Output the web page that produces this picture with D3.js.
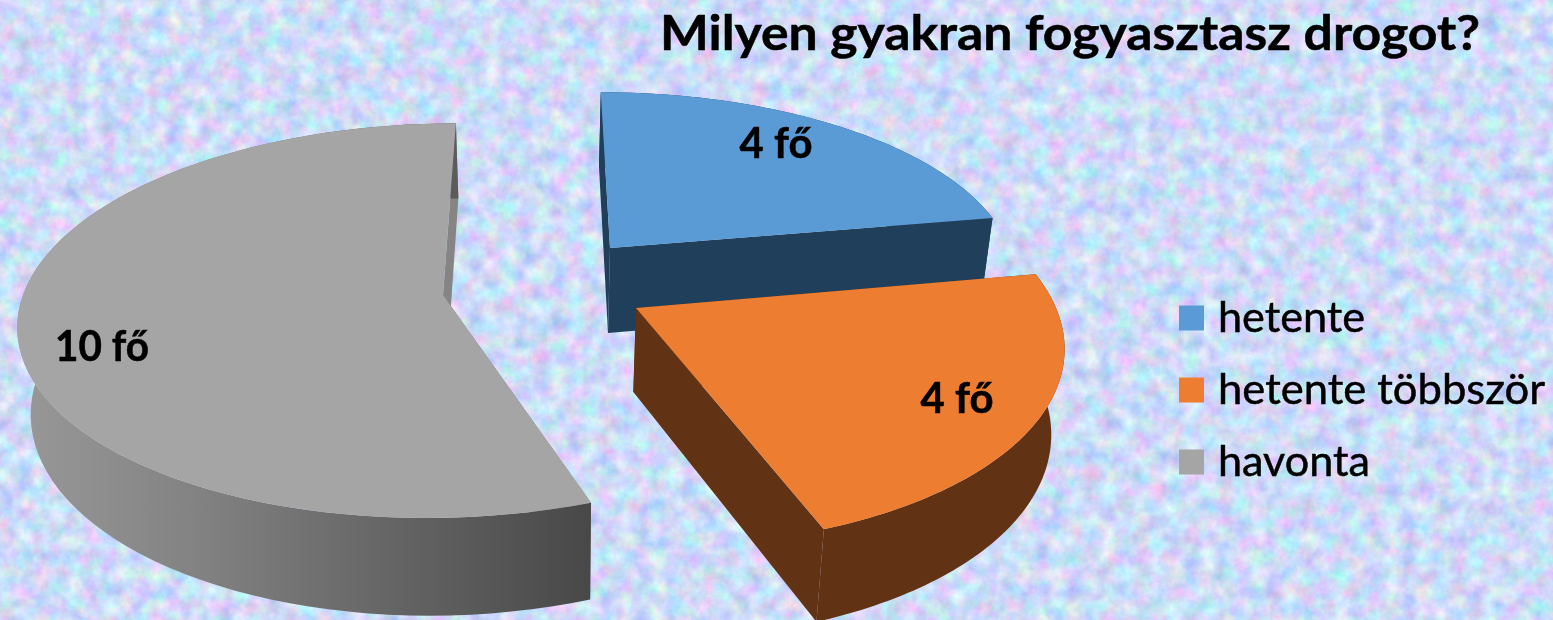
<!DOCTYPE html>
<html>
<head>
<meta charset="utf-8">
<script src="https://cdn.jsdelivr.net/npm/d3@7"></script>
<style>
  html, body { margin: 0; padding: 0; background: #cdd7fa; }
  svg { display: block; filter: blur(0.6px); }
  text { font-family: Lato, "Noto Sans", sans-serif; fill: #000; stroke: #000; stroke-width: 0.5px; }
</style>
</head>
<body>
<svg id="chart"></svg>
<script>
const title = 'Milyen gyakran fogyasztasz drogot?';
const categories = ['hetente', 'hetente többször', 'havonta'];
const values = [4, 4, 10];
const unit = 'fő';

const width = 1553;
const height = 620;

const topColor = d3.scaleOrdinal().domain(categories).range(['#5b9bd5', '#ed7d31', '#a5a5a5']);
const sideColor = d3.scaleOrdinal().domain(categories).range(['#1f3f5a', '#613214', 'url(#greySide)']);
const cutColor = d3.scaleOrdinal().domain(categories).range(['#1f3f5a', '#613214', '#858585']);

// exploded 3d pie: tip of each slice on screen, ellipse radii and how the perspective hits it
const layout = [
  { ax: 610, ay: 248, rx: 399, ry: 176, vx: 530, persp: 0.13, depth: 85, grow: 1, label: [776, 158], labelW: 73 },
  { ax: 636, ay: 308, rx: 420, ry: 200, vx: 530, persp: 0.16, depth: 84, grow: 0.6, label: [957, 413], labelW: 73 },
  { ax: 443, ay: 295, rx: 420, ry: 194, vx: 555, persp: 0.13, depth: 85, grow: 1, label: [102, 361], labelW: 94 }
];
const sink = 0.025;

const svg = d3.select('#chart').attr('width', width).attr('height', height);
const defs = svg.append('defs');

// paper texture
const paper = defs.append('filter').attr('id', 'paper')
  .attr('x', 0).attr('y', 0).attr('width', '100%').attr('height', '100%')
  .attr('color-interpolation-filters', 'sRGB');
paper.append('feTurbulence')
  .attr('type', 'fractalNoise').attr('baseFrequency', 0.06)
  .attr('numOctaves', 4).attr('seed', 7);
paper.append('feColorMatrix').attr('type', 'matrix')
  .attr('values', '0.45 0 0 0 0.58  0 0.36 0 0 0.68  0 0 0.2 0 0.87  0 0 0 0 1');

const grad = defs.append('linearGradient').attr('id', 'greySide')
  .attr('gradientUnits', 'userSpaceOnUse')
  .attr('x1', 20).attr('x2', 590).attr('y1', 0).attr('y2', 0);
[[0, '#989898'], [0.3, '#838383'], [0.65, '#656565'], [1, '#484848']].forEach(([o, c]) => {
  grad.append('stop').attr('offset', o).attr('stop-color', c);
});

svg.append('rect').attr('width', width).attr('height', height).attr('filter', 'url(#paper)');

function topPoint(s, a) {
  const c = Math.cos(a);
  const p = 1 / (1 + s.persp * c);
  return [s.vx + (s.ax - s.vx + s.rx * Math.sin(a)) * p, s.ay - s.ry * c * p];
}

function bottomPoint(s, a) {
  const t = topPoint(s, a);
  const p = 1 / (1 + s.persp * Math.cos(a));
  return [s.vx + (t[0] - s.vx) * (1 - sink), t[1] + s.depth * Math.pow(p, s.grow)];
}

function tipBottom(s) {
  return [s.vx + (s.ax - s.vx) * (1 - sink), s.ay + s.depth];
}

function arcAngles(d) {
  return d3.range(0, 81).map((i) => d.startAngle + (d.endAngle - d.startAngle) * i / 80);
}

const closed = d3.line().curve(d3.curveLinearClosed);

const slices = d3.pie().sort(null)(values).map((d, i) => ({ ...d, name: categories[i], s: layout[i] }));

// blue goes first, the orange one sits over it
const g = svg.append('g').selectAll('g')
  .data([slices[0], slices[2], slices[1]])
  .join('g');

// cut wall at the start of the slice
g.append('path')
  .attr('fill', (d) => cutColor(d.name))
  .attr('d', (d) => closed([
    topPoint(d.s, d.startAngle), bottomPoint(d.s, d.startAngle), tipBottom(d.s), [d.s.ax, d.s.ay]
  ]));

// cut wall at the end of the slice
g.append('path')
  .attr('fill', (d) => cutColor(d.name))
  .attr('d', (d) => closed([
    topPoint(d.s, d.endAngle), bottomPoint(d.s, d.endAngle), tipBottom(d.s), [d.s.ax, d.s.ay]
  ]));

// rim
g.append('path')
  .attr('fill', (d) => sideColor(d.name))
  .attr('d', (d) => {
    const a = arcAngles(d);
    return closed(a.map((x) => topPoint(d.s, x)).concat(a.slice().reverse().map((x) => bottomPoint(d.s, x))));
  });

// top face
g.append('path')
  .attr('fill', (d) => topColor(d.name))
  .attr('d', (d) => closed([[d.s.ax, d.s.ay]].concat(arcAngles(d).map((x) => topPoint(d.s, x)))));

// value labels
g.append('text')
  .attr('x', (d) => d.s.label[0])
  .attr('y', (d) => d.s.label[1])
  .attr('text-anchor', 'middle')
  .attr('font-size', 42)
  .attr('font-weight', 700)
  .attr('textLength', (d) => d.s.labelW)
  .attr('lengthAdjust', 'spacingAndGlyphs')
  .text((d) => d.value + ' ' + unit);

svg.append('text')
  .attr('x', 660)
  .attr('y', 50)
  .attr('font-size', 48)
  .attr('font-weight', 700)
  .attr('textLength', 820)
  .attr('lengthAdjust', 'spacingAndGlyphs')
  .text(title);

// legend
const legendY = d3.scalePoint().domain(categories).range([318, 462]);
const legendW = d3.scaleOrdinal().domain(categories).range([147, 327, 152]);

const legend = svg.append('g').selectAll('g')
  .data(categories)
  .join('g')
  .attr('transform', (d) => `translate(0,${legendY(d)})`);

legend.append('rect')
  .attr('x', 1179).attr('y', -12.5)
  .attr('width', 25).attr('height', 25)
  .attr('fill', (d) => topColor(d));

legend.append('text')
  .attr('x', 1218).attr('y', 13.5)
  .attr('font-size', 42)
  .attr('textLength', (d) => legendW(d))
  .attr('lengthAdjust', 'spacingAndGlyphs')
  .text((d) => d);
</script>
</body>
</html>
